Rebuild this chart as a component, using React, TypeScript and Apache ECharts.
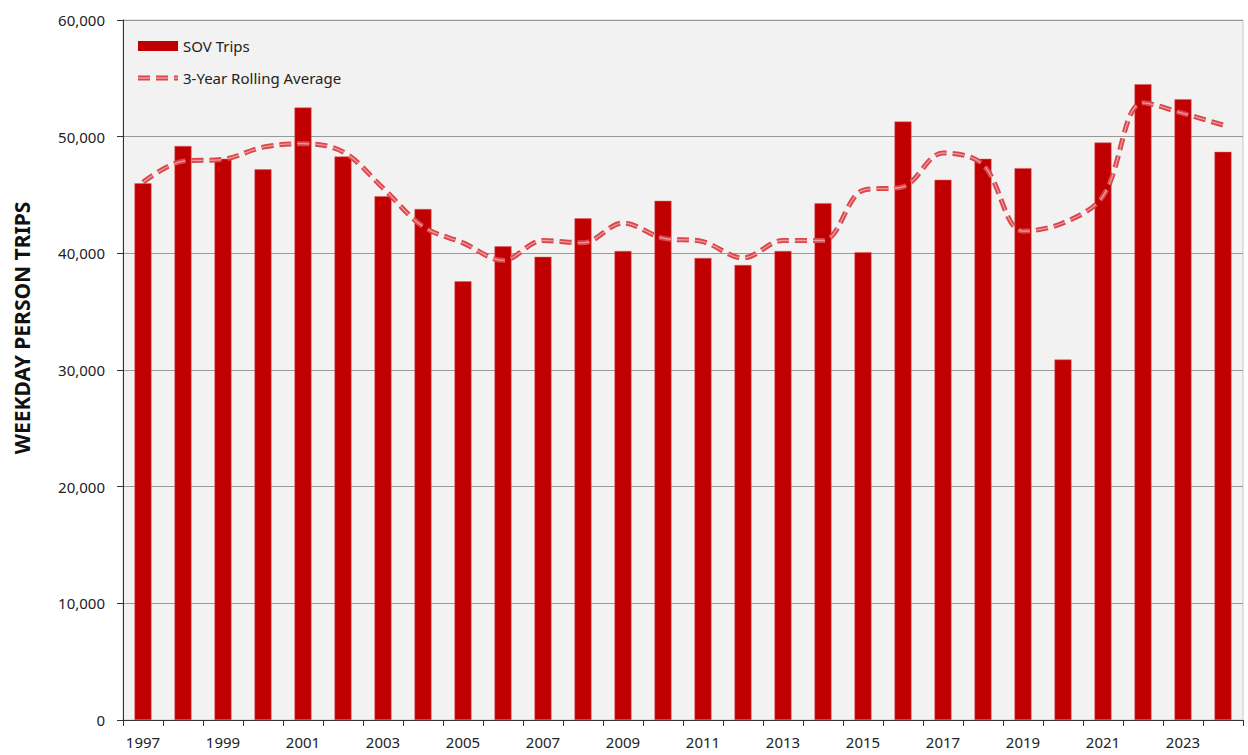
import React, { useEffect, useRef } from "react";
import * as echarts from "echarts";

const years = [
  "1997", "1998", "1999", "2000", "2001", "2002", "2003", "2004", "2005", "2006",
  "2007", "2008", "2009", "2010", "2011", "2012", "2013", "2014", "2015", "2016",
  "2017", "2018", "2019", "2020", "2021", "2022", "2023", "2024",
];

const sovTrips = [
  46000, 49200, 48100, 47200, 52500, 48300, 44900, 43800, 37600, 40600,
  39700, 43000, 40200, 44500, 39600, 39000, 40200, 44300, 40100, 51300,
  46300, 48100, 47300, 30900, 49500, 54500, 53200, 48700,
];

const rollingAvg = [
  46100, 47900, 48050, 49100, 49400, 48700, 45600, 42300, 40900, 39400,
  41100, 40900, 42600, 41300, 41000, 39600, 41100, 41100, 45400, 45700,
  48600, 47600, 41900, 42600, 44900, 52900, 52000, 51000,
];

const yTicks = [0, 10000, 20000, 30000, 40000, 50000, 60000];

const legendNames = ["SOV Trips", "3-Year Rolling Average"];

const FONT = "'Noto Sans', 'Open Sans', sans-serif";

export default function App() {
  const ref = useRef<HTMLDivElement>(null);

  useEffect(() => {
    if (!ref.current) return;
    const chart = echarts.init(ref.current, null, { renderer: "svg" });
    const dash = [12, 6];
    chart.setOption({
      animation: false,
      backgroundColor: "#ffffff",
      grid: {
        left: 123,
        right: 5,
        top: 20,
        bottom: 35,
        show: true,
        backgroundColor: "#f2f2f2",
        borderColor: "#c8c8c8",
        borderWidth: 1,
      },
      legend: { show: false },
      graphic: [
        {
          type: "text",
          x: 22,
          y: 328,
          rotation: Math.PI / 2,
          style: {
            text: "WEEKDAY PERSON TRIPS",
            fontFamily: FONT,
            fontWeight: "bold",
            fontSize: 21,
            fill: "#111",
            align: "center",
            verticalAlign: "middle",
          },
        },
        {
          type: "rect",
          shape: { x: 138, y: 41, width: 40, height: 10 },
          style: { fill: "#c00000" },
        },
        {
          type: "text",
          x: 183,
          y: 46,
          style: {
            text: legendNames[0],
            fontFamily: FONT,
            fontSize: 15,
            fill: "#222",
            align: "left",
            verticalAlign: "middle",
          },
        },
        {
          type: "line",
          shape: { x1: 138, y1: 78, x2: 178, y2: 78 },
          style: { stroke: "#d9474c", lineWidth: 5, lineDash: dash },
        },
        {
          type: "line",
          shape: { x1: 138, y1: 78, x2: 178, y2: 78 },
          style: { stroke: "#ee9a9c", lineWidth: 1.3, lineDash: dash },
        },
        {
          type: "text",
          x: 183,
          y: 78,
          style: {
            text: legendNames[1],
            fontFamily: FONT,
            fontSize: 15,
            fill: "#222",
            align: "left",
            verticalAlign: "middle",
          },
        },
      ],
      xAxis: {
        type: "category",
        data: years,
        boundaryGap: true,
        axisLine: { show: true, lineStyle: { color: "#333", width: 1 } },
        axisTick: { show: true, interval: 0, length: 6, lineStyle: { color: "#333" } },
        axisLabel: {
          interval: 1,
          margin: 14,
          fontFamily: FONT,
          fontSize: 15,
          color: "#222",
        },
      },
      yAxis: {
        type: "value",
        min: yTicks[0],
        max: yTicks[yTicks.length - 1],
        interval: 10000,
        axisLine: { show: true, lineStyle: { color: "#333", width: 1 } },
        axisTick: { show: true, length: 6, lineStyle: { color: "#333" } },
        splitLine: { show: true, lineStyle: { color: "#999", width: 1 } },
        axisLabel: {
          margin: 18,
          fontFamily: FONT,
          fontSize: 15,
          color: "#222",
          formatter: (v: number) => v.toLocaleString("en-US"),
        },
      },
      series: [
        {
          name: legendNames[0],
          type: "bar",
          data: sovTrips,
          barWidth: 17,
          itemStyle: { color: "#c00000", borderColor: "#e06060", borderWidth: 0.5 },
        },
        {
          name: legendNames[1],
          type: "line",
          data: rollingAvg,
          smooth: 0.35,
          symbol: "none",
          showSymbol: false,
          lineStyle: { color: "#d9474c", width: 5, type: dash },
          itemStyle: { color: "#d9474c" },
          z: 3,
        },
        {
          name: "avg-inner",
          type: "line",
          data: rollingAvg,
          smooth: 0.35,
          symbol: "none",
          showSymbol: false,
          lineStyle: { color: "#ee9a9c", width: 1.3, type: dash },
          z: 4,
          silent: true,
        },
      ],
    });
    return () => chart.dispose();
  }, []);

  return (
    <div
      ref={ref}
      style={{ position: "fixed", left: 0, top: 0, width: 1248, height: 755 }}
    />
  );
}
